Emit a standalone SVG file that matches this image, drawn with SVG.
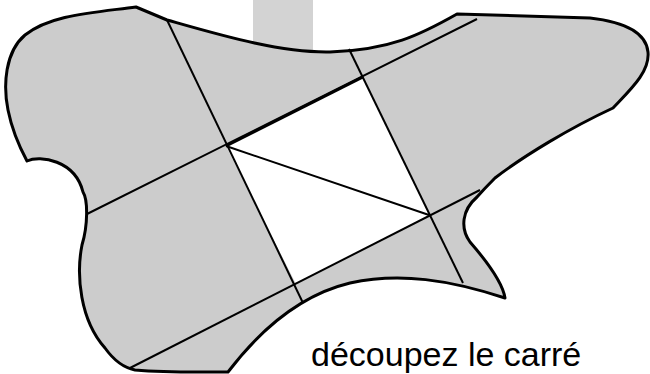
<svg xmlns="http://www.w3.org/2000/svg" width="650" height="374" viewBox="0 0 650 374">
<style>
.blob{fill:#cccccc;stroke:#000;stroke-width:3;stroke-linejoin:round}
.cut{stroke:#000;stroke-width:2;fill:none}
.lbl{font-family:"Liberation Sans",Arial,sans-serif;font-size:34px;fill:#000}
</style>
<rect width="650" height="374" fill="#fff"/>
<g id="bar"><rect x="253" y="0" width="60" height="52" fill="#d3d3d3"/></g>
<g id="shape">
<path class="blob" d="M136,7 C90,13 50,15 25,35 C5,52 3,85 8,110 C12,130 20,148 27,161 C40,155 75,160 83,192 C88,200 88,225 82,245 C76,275 80,320 105,348 C115,362 125,368 135,370 C170,373 200,372 228,372 C260,330 300,295 350,283 C400,272 450,280 505,298 C503,285 490,265 470,242 C460,228 462,210 477,197 C485,188 490,183 495,178 C525,155 570,128 613,108 C630,90 650,72 648,52 C646,32 625,22 590,18 L457,14 C420,35 390,50 330,52 C280,53 220,35 167,20 Z"/>
</g>
<g id="square"><polygon points="226,146 363,77 429,215 296,284" fill="#fff"/></g>
<g id="connectors">
<line class="cut" x1="167" y1="20" x2="303" y2="303"/>
<line class="cut" x1="349" y1="49" x2="463" y2="283"/>
<line class="cut" x1="87" y1="214" x2="477" y2="19"/>
<line class="cut" x1="130" y1="368" x2="480" y2="190"/>
<line class="cut" x1="226" y1="146" x2="429" y2="215"/>
<line x1="226" y1="146" x2="363" y2="77" stroke="#000" stroke-width="3"/>
</g>
<g id="label"><text class="lbl" x="311" y="366">découpez le carré</text></g>
</svg>
